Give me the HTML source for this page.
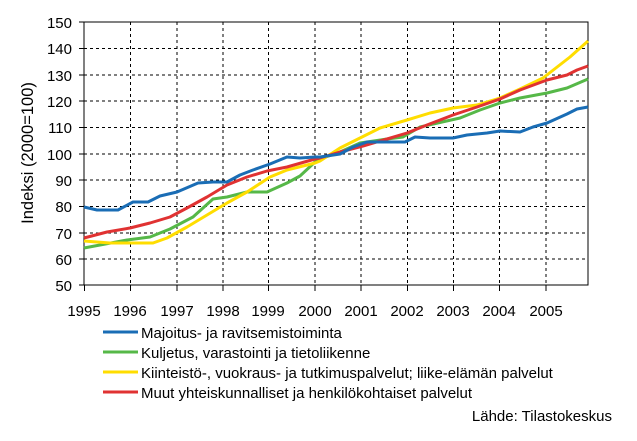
<!DOCTYPE html>
<html><head><meta charset="utf-8"><style>body{margin:0;background:#fff}svg{display:block}text{font-family:"Liberation Sans",Arial,sans-serif;font-size:15px;fill:#000}</style></head><body>
<svg width="637" height="441" viewBox="0 0 637 441">
<g stroke="#000" stroke-width="1" stroke-dasharray="3,3" fill="none">
<path d="M84 48.5H588M84 75H588M84 101H588M84 127.5H588M84 154H588M84 180H588M84 206.5H588M84 233H588M84 259H588"/>
<path d="M130.5 22V285M177 22V285M223 22V285M268.5 22V285M315 22V285M361 22V285M407.5 22V285M453.5 22V285M499.5 22V285M546 22V285"/>
</g>
<rect x="84" y="22" width="504" height="263" fill="none" stroke="#000"/>
<g stroke="#000"><path d="M79 22H84M79 48.5H84M79 75H84M79 101H84M79 127.5H84M79 154H84M79 180H84M79 206.5H84M79 233H84M79 259H84M79 285H84"/>
<path d="M84.5 285V291M130.5 285V291M177 285V291M223 285V291M268.5 285V291M315 285V291M361 285V291M407.5 285V291M453.5 285V291M499.5 285V291M546 285V291"/></g>
<g text-anchor="end"><text x="72" y="28">150</text><text x="72" y="54">140</text><text x="72" y="81">130</text><text x="72" y="107">120</text><text x="72" y="133">110</text><text x="72" y="160">100</text><text x="72" y="186">90</text><text x="72" y="212">80</text><text x="72" y="239">70</text><text x="72" y="265">60</text><text x="72" y="291">50</text></g>
<g text-anchor="middle"><text x="84" y="316">1995</text><text x="130" y="316">1996</text><text x="177" y="316">1997</text><text x="223" y="316">1998</text><text x="268" y="316">1999</text><text x="315" y="316">2000</text><text x="361" y="316">2001</text><text x="407" y="316">2002</text><text x="453" y="316">2003</text><text x="499" y="316">2004</text><text x="546" y="316">2005</text></g>
<text transform="translate(33,153) rotate(-90)" text-anchor="middle" style="font-size:16.5px">Indeksi (2000=100)</text>
<g fill="none" stroke-width="3" stroke-linejoin="round">
<polyline stroke="#56b848" points="84,248 100,245 127,240 150,237 170,229 193,217 213,199 227,197 247,192 267,192 287,183 300,176 315,162 320,159 340,152 360,143 387,139 403,137 420,127 460,118 480,110 500,103 520,98 547,93 567,88 588,79"/>
<polyline stroke="#ffdd00" points="84,241 110,243 130,243 153,243 167,238 187,227 207,215 227,203 247,192 270,177 287,170 315,163 320,161 340,148 360,138 380,128 407,120 430,113 453,108 477,105 500,98 520,89 543,78 570,57 588,41"/>
<polyline stroke="#e03232" points="84,238 107,232 130,228 150,223 170,217 187,208 207,197 227,185 247,177 267,171 287,167 315,159 320,158 340,152 363,146 387,139 407,133 427,125 453,115 477,107 500,99 520,90 547,80 567,75 577,70 588,66"/>
<polyline stroke="#1a6db5" points="84,207 97,210 118,210 133,202 148,202 160,196 177,192 198,183 213,182 227,182 240,175 253,170 270,164 287,157 300,158 315,157 320,157 340,154 353,147 367,142 405,142 415,137 430,138 453,138 467,135 487,133 500,131 520,132 533,127 547,123 567,114 577,109 588,107"/>
</g>
<g stroke-width="3"><path stroke="#1a6db5" d="M103 332H138"/><path stroke="#56b848" d="M103 352H138"/><path stroke="#ffdd00" d="M103 372H138"/><path stroke="#e03232" d="M103 392H138"/></g>
<g style="font-size:16px">
<text x="141" y="338">Majoitus- ja ravitsemistoiminta</text>
<text x="141" y="358">Kuljetus, varastointi ja tietoliikenne</text>
<text x="141" y="378">Kiinteistö-, vuokraus- ja tutkimuspalvelut; liike-elämän palvelut</text>
<text x="141" y="398">Muut yhteiskunnalliset ja henkilökohtaiset palvelut</text>
<text x="612" y="421" text-anchor="end">Lähde: Tilastokeskus</text>
</g>
</svg></body></html>
